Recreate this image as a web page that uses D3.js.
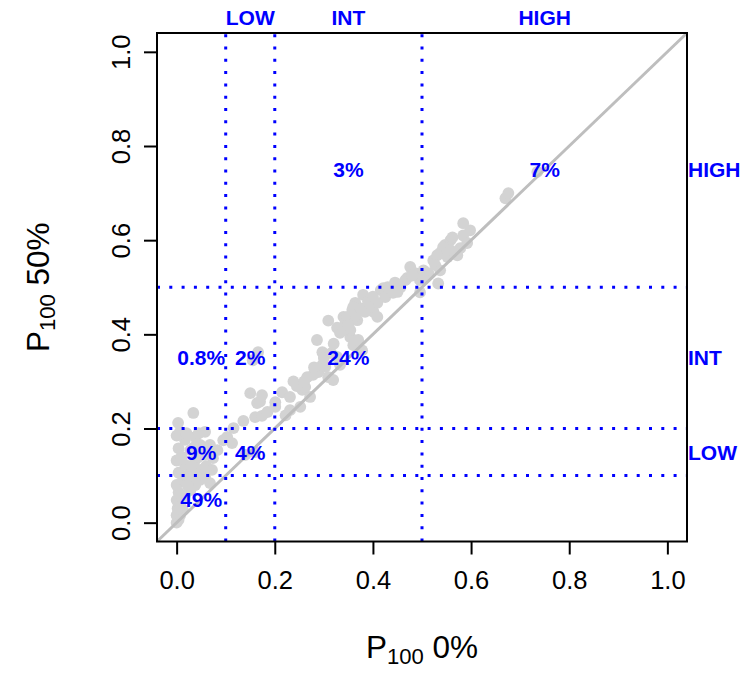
<!DOCTYPE html>
<html>
<head>
<meta charset="utf-8">
<script src="https://cdn.jsdelivr.net/npm/d3@7"></script>
<style>
  body { margin: 0; background: #ffffff; }
  text { font-family: "Liberation Sans", Arial, Helvetica, sans-serif; }
</style>
</head>
<body>
<svg id="chart" width="745" height="673"></svg>
<script>

// P100 at 0% (x) and at 50% (y), one entry per point
const p100_0 = [
    0.000,0.004,0.000,0.007,0.013,0.002,0.007,0.000,0.017,0.004,
    0.028,0.000,0.038,0.013,0.048,0.058,0.068,0.028,0.004,0.048,
    0.072,0.017,0.000,0.038,0.058,0.074,0.028,0.004,0.048,0.068,
    0.017,0.038,0.000,0.058,0.007,0.003,0.034,0.083,0.095,
    0.020,0.030,0.045,0.060,0.055,0.065,0.010,0.035,0.020,0.045,
    0.012,0.022,0.035,0.050,0.060,
    0.103,0.113,0.116,0.136,0.140,0.160,0.164,0.174,0.150,0.174,
    0.170,0.166,0.155,0.160,
    0.201,0.215,0.201,0.231,0.238,0.252,0.256,0.231,0.272,0.262,
    0.266,0.278,0.289,0.303,0.309,0.319,0.297,0.286,0.297,0.309,
    0.185,0.222,0.245,0.260,0.280,0.300,0.315,
    0.327,0.344,0.340,0.358,0.364,0.380,0.394,0.401,0.416,0.425,
    0.409,0.354,0.360,0.354,0.370,0.333,0.327,0.348,0.360,0.384,
    0.409,0.421,0.441,0.368,0.333,0.378,0.456,
    0.320,0.340,0.350,0.365,0.375,0.390,0.400,0.430,0.445,0.450,
    0.466,0.476,0.486,0.496,0.503,0.496,0.533,0.523,0.537,0.547,
    0.558,0.584,0.598,0.562,0.584,0.592,0.543,0.531,0.552,0.572,
    0.578,0.558,0.527,0.513,0.537,0.503,0.470,0.480,
    0.670,0.676,0.735
];
const p100_50 = [
    0.000,0.006,0.016,0.016,0.027,0.030,0.038,0.048,0.059,0.064,
    0.069,0.080,0.080,0.091,0.091,0.097,0.084,0.101,0.106,0.112,
    0.112,0.123,0.132,0.133,0.144,0.137,0.154,0.158,0.165,0.165,
    0.176,0.182,0.185,0.193,0.193,0.212,0.233,0.154,0.175,
    0.100,0.120,0.140,0.120,0.160,0.150,0.140,0.160,0.190,0.190,
    0.050,0.080,0.100,0.105,0.110,
    0.182,0.169,0.201,0.216,0.144,0.224,0.254,0.227,0.275,0.271,
    0.257,0.362,0.345,0.150,
    0.246,0.277,0.256,0.239,0.300,0.246,0.282,0.267,0.267,0.288,
    0.309,0.314,0.320,0.331,0.309,0.303,0.335,0.388,0.362,0.429,
    0.235,0.228,0.290,0.300,0.330,0.350,0.360,
    0.352,0.424,0.437,0.452,0.467,0.484,0.463,0.448,0.494,0.479,
    0.437,0.394,0.377,0.409,0.388,0.403,0.414,0.437,0.458,0.448,
    0.467,0.498,0.488,0.430,0.335,0.366,0.500,
    0.380,0.410,0.420,0.440,0.455,0.470,0.480,0.500,0.510,0.490,
    0.515,0.543,0.530,0.515,0.536,0.489,0.508,0.557,0.573,0.590,
    0.600,0.636,0.621,0.606,0.610,0.594,0.585,0.568,0.564,0.568,
    0.583,0.579,0.547,0.530,0.536,0.520,0.520,0.525,
    0.689,0.700,0.745
];

const cutoffs = [0.1, 0.2, 0.5];
const classNames = ["LOW", "INT", "HIGH"];
const classMids = [0.15, 0.35, 0.75];

const cellX = [0.05, 0.05, 0.15, 0.05, 0.15, 0.35, 0.35, 0.75];
const cellY = [0.05, 0.15, 0.15, 0.35, 0.35, 0.35, 0.75, 0.75];
const cellText = ["49%", "9%", "4%", "0.8%", "2%", "24%", "3%", "7%"];

const tickValues = [0, 0.2, 0.4, 0.6, 0.8, 1.0];

const width = 745, height = 673;
const margin = {left: 157, right: 58, top: 33, bottom: 131.5};

const svg = d3.select("#chart");

const x = d3.scaleLinear().domain([-0.04, 1.04]).range([margin.left, width - margin.right]);
const y = d3.scaleLinear().domain([-0.04, 1.04]).range([height - margin.bottom, margin.top]);

const blue = "#0000ff";

// points
svg.append("g")
    .selectAll("circle")
    .data(d3.range(p100_0.length))
    .join("circle")
    .attr("cx", i => x(p100_0[i]))
    .attr("cy", i => y(p100_50[i]))
    .attr("r", 5.9)
    .attr("fill", "#d3d3d3");

// identity line
svg.append("line")
    .attr("x1", x(-0.04)).attr("y1", y(-0.04))
    .attr("x2", x(1.04)).attr("y2", y(1.04))
    .attr("stroke", "#bebebe")
    .attr("stroke-width", 3);

// cut-off lines
const cuts = svg.append("g")
    .attr("stroke", blue)
    .attr("stroke-width", 3)
    .attr("stroke-dasharray", "3 9.3");

cuts.selectAll(".vcut")
    .data(cutoffs)
    .join("line")
    .attr("class", "vcut")
    .attr("x1", d => x(d)).attr("x2", d => x(d))
    .attr("y1", y(-0.04)).attr("y2", y(1.04));

cuts.selectAll(".hcut")
    .data(cutoffs)
    .join("line")
    .attr("class", "hcut")
    .attr("y1", d => y(d)).attr("y2", d => y(d))
    .attr("x1", x(-0.04)).attr("x2", x(1.04));

// cell percentages
svg.append("g")
    .selectAll("text")
    .data(d3.range(cellText.length))
    .join("text")
    .attr("x", i => x(cellX[i]))
    .attr("y", i => y(cellY[i]))
    .attr("dy", "0.36em")
    .attr("text-anchor", "middle")
    .attr("font-size", 21)
    .attr("font-weight", "bold")
    .attr("fill", blue)
    .text(i => cellText[i]);

// class labels, top and right
svg.append("g")
    .selectAll("text")
    .data(d3.range(classNames.length))
    .join("text")
    .attr("x", i => x(classMids[i]))
    .attr("y", 25)
    .attr("text-anchor", "middle")
    .attr("font-size", 21)
    .attr("font-weight", "bold")
    .attr("fill", blue)
    .text(i => classNames[i]);

svg.append("g")
    .selectAll("text")
    .data(d3.range(classNames.length))
    .join("text")
    .attr("x", width - margin.right + 1)
    .attr("y", i => y(classMids[i]))
    .attr("dy", "0.36em")
    .attr("text-anchor", "start")
    .attr("font-size", 21)
    .attr("font-weight", "bold")
    .attr("fill", blue)
    .text(i => classNames[i]);

// axes
const fmt = d3.format(".1f");

const xAxis = svg.append("g")
    .attr("transform", "translate(0," + (height - margin.bottom) + ")")
    .call(d3.axisBottom(x).tickValues(tickValues).tickFormat(fmt).tickSize(13).tickPadding(5));

const yAxis = svg.append("g")
    .attr("transform", "translate(" + margin.left + ",0)")
    .call(d3.axisLeft(y).tickValues(tickValues).tickFormat(fmt).tickSize(13).tickPadding(5));

[xAxis, yAxis].forEach(function(ax){
    ax.select(".domain").remove();
    ax.selectAll("line").attr("stroke", "#000").attr("stroke-width", 2);
    ax.selectAll("text")
        .attr("font-size", 25.5)
        .attr("font-family", "'Liberation Sans', Arial, Helvetica, sans-serif")
        .attr("fill", "#000");
});

xAxis.selectAll("text").attr("y", 47).attr("dy", 0);

// rotated y tick labels, reading upward
yAxis.selectAll(".tick text")
    .attr("x", null)
    .attr("dy", 0)
    .attr("text-anchor", "middle")
    .attr("transform", "translate(-27,0) rotate(-90)")
    .attr("y", 0);

// frame
svg.append("rect")
    .attr("x", margin.left)
    .attr("y", margin.top)
    .attr("width", width - margin.left - margin.right)
    .attr("height", height - margin.top - margin.bottom)
    .attr("fill", "none")
    .attr("stroke", "#000")
    .attr("stroke-width", 2);

// axis titles
function axisTitle(g, tail){
    g.append("tspan").text("P");
    g.append("tspan").attr("font-size", "0.7em").attr("dy", 6).text("100");
    g.append("tspan").attr("dy", -6).text(" " + tail);
}

const xTitle = svg.append("text")
    .attr("x", (margin.left + width - margin.right) / 2)
    .attr("y", 658)
    .attr("text-anchor", "middle")
    .attr("font-size", 31.5)
    .attr("fill", "#000");
axisTitle(xTitle, "0%");

const yTitle = svg.append("text")
    .attr("transform", "translate(49," + ((margin.top + height - margin.bottom) / 2) + ") rotate(-90)")
    .attr("text-anchor", "middle")
    .attr("font-size", 31.5)
    .attr("fill", "#000");
axisTitle(yTitle, "50%");

</script>
</body>
</html>
